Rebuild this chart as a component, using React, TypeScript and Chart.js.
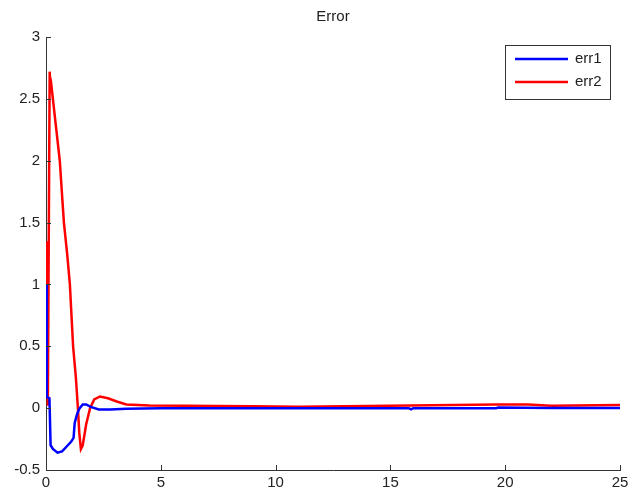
import React, { useEffect, useRef } from "react";
import { Chart, registerables } from "chart.js";

Chart.register(...registerables);

const chartTitle = "Error";
const seriesNames = ["err1", "err2"];

const err1X = [0, 0.03, 0.15, 0.2, 0.3, 0.5, 0.7, 0.9, 1.1, 1.2, 1.25, 1.35, 1.45, 1.6, 1.75, 1.95, 2.3, 2.8, 3.5, 5, 8, 12, 15.8, 15.9, 16, 19.6, 19.7, 22, 25];
const err1Y = [1.0, 0.09, 0.08, -0.3, -0.33, -0.36, -0.35, -0.31, -0.27, -0.24, -0.12, -0.05, -0.005, 0.03, 0.03, 0.01, -0.01, -0.01, -0.005, 0, 0, 0, 0, -0.01, 0, 0, 0.005, 0.002, 0.002];

const err2X = [0, 0.04, 0.08, 0.16, 0.2, 0.24, 0.3, 0.45, 0.6, 0.7, 0.78, 0.92, 1.04, 1.18, 1.3, 1.38, 1.45, 1.52, 1.6, 1.75, 1.92, 2.1, 2.35, 2.7, 3.08, 3.5, 4.5, 6, 9, 11, 14, 19.6, 21, 22, 25];
const err2Y = [0.1, 1.35, 0.02, 2.72, 2.55, 2.6, 2.5, 2.25, 2.0, 1.72, 1.5, 1.25, 1.0, 0.5, 0.25, 0.03, -0.2, -0.33, -0.3, -0.13, 0, 0.07, 0.094, 0.08, 0.054, 0.03, 0.022, 0.02, 0.015, 0.012, 0.018, 0.03, 0.03, 0.02, 0.025];

const xTickMin = 0;
const xTickMax = 25;
const xTickStep = 5;
const yTickMin = -0.5;
const yTickMax = 3;
const yTickStep = 0.5;

const seriesColors = ["#0000ff", "#ff0000"];
const FONT = "'Liberation Sans', Arial, sans-serif";
const TEXT = "#222222";
const AXIS = "#333333";

const innerTicks = {
  id: "innerTicks",
  afterDraw(chart: any) {
    const { ctx, chartArea } = chart;
    const xs = chart.scales.x;
    const ys = chart.scales.y;
    ctx.save();
    ctx.strokeStyle = AXIS;
    ctx.lineWidth = 1;
    ctx.beginPath();
    xs.ticks.forEach((t: any) => {
      const px = Math.round(xs.getPixelForValue(t.value)) + 0.5;
      ctx.moveTo(px, chartArea.bottom);
      ctx.lineTo(px, chartArea.bottom - 5);
    });
    ys.ticks.forEach((t: any) => {
      const py = Math.round(ys.getPixelForValue(t.value)) + 0.5;
      ctx.moveTo(chartArea.left, py);
      ctx.lineTo(chartArea.left + 5, py);
    });
    ctx.stroke();

    ctx.fillStyle = TEXT;
    ctx.font = `15px ${FONT}`;
    ctx.textAlign = "center";
    ctx.textBaseline = "middle";
    ctx.fillText(chartTitle, (chartArea.left + chartArea.right) / 2, 17);

    const bx = 505.5, by = 45.5, bw = 105, bh = 54;
    ctx.fillStyle = "#ffffff";
    ctx.fillRect(bx, by, bw, bh);
    ctx.strokeStyle = "#333333";
    ctx.lineWidth = 1;
    ctx.strokeRect(bx, by, bw, bh);
    chart.data.datasets.forEach((ds: any, i: number) => {
      const ly = 59 + i * 23;
      ctx.strokeStyle = ds.borderColor;
      ctx.lineWidth = 2.5;
      ctx.beginPath();
      ctx.moveTo(515, ly);
      ctx.lineTo(568, ly);
      ctx.stroke();
      ctx.fillStyle = TEXT;
      ctx.font = `15px ${FONT}`;
      ctx.textAlign = "left";
      ctx.textBaseline = "middle";
      ctx.fillText(ds.label, 575, ly);
    });
    ctx.restore();
  },
};

const fmt = (v: any) => String(Number(v));

export default function App() {
  const ref = useRef<HTMLCanvasElement | null>(null);
  useEffect(() => {
    if (!ref.current) return;
    const toPts = (xs: number[], ys: number[]) => xs.map((x, i) => ({ x, y: ys[i] }));
    const chart = new Chart(ref.current, {
      type: "line",
      data: {
        datasets: [
          {
            label: seriesNames[0],
            data: toPts(err1X, err1Y),
            borderColor: seriesColors[0],
            backgroundColor: seriesColors[0],
            borderWidth: 2.5,
            pointRadius: 0,
            tension: 0,
          },
          {
            label: seriesNames[1],
            data: toPts(err2X, err2Y),
            borderColor: seriesColors[1],
            backgroundColor: seriesColors[1],
            borderWidth: 2.5,
            pointRadius: 0,
            tension: 0,
          },
        ],
      },
      options: {
        responsive: false,
        animation: false,
        events: [],
        layout: { padding: { top: 37, right: 17, left: 0, bottom: 0 } },
        plugins: { legend: { display: false }, title: { display: false }, tooltip: { enabled: false } },
        scales: {
          x: {
            type: "linear",
            min: xTickMin,
            max: xTickMax,
            grid: { display: false, drawTicks: false },
            border: { display: true, color: AXIS, width: 1 },
            ticks: { stepSize: xTickStep, color: TEXT, font: { family: FONT, size: 15 }, padding: 4, maxRotation: 0, callback: fmt },
            afterFit: (s: any) => { s.height = 21; },
          },
          y: {
            type: "linear",
            min: yTickMin,
            max: yTickMax,
            grid: { display: false, drawTicks: false },
            border: { display: true, color: AXIS, width: 1 },
            ticks: { stepSize: yTickStep, color: TEXT, font: { family: FONT, size: 15 }, padding: 6, callback: fmt },
            afterFit: (s: any) => { s.width = 46; },
          },
        },
      },
      plugins: [innerTicks],
    });
    return () => chart.destroy();
  }, []);
  return (
    <div style={{ position: "absolute", left: 0, top: 0, width: 637, height: 491, background: "#fff" }}>
      <canvas ref={ref} width={637} height={491} />
    </div>
  );
}
